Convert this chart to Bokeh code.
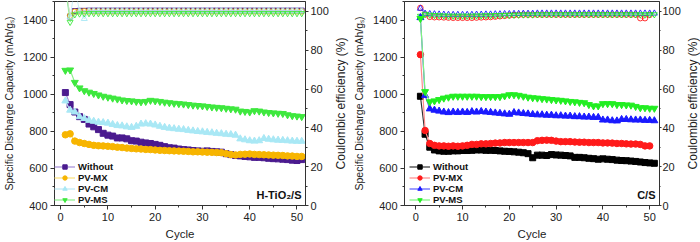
from bokeh.plotting import figure
from bokeh.models import Range1d, LinearAxis, SingleIntervalTicker, Legend, LegendItem, Label, Title
from bokeh.layouts import row
from bokeh.embed import file_html
from bokeh.resources import INLINE

FONT = "Liberation Sans"

cycles = list(range(1, 52))

# ---- H-TiO2/S : discharge capacity (mAh/g_s) ----
ti_without = [1010, 945, 905, 880, 865, 840, 825, 810, 790, 780,
              775, 765, 765, 760, 750, 748, 742, 738, 735, 730,
              725, 718, 712, 710, 705, 702, 700, 697, 695, 693,
              695, 692, 690, 688, 680, 675, 670, 668, 665, 663,
              660, 660, 658, 655, 653, 652, 650, 648, 645, 643, 648]
ti_mx = [782, 787, 748, 740, 735, 730, 725, 723, 722, 720,
         718, 715, 713, 710, 708, 706, 705, 703, 702, 700,
         698, 697, 696, 695, 694, 693, 692, 690, 690, 689,
         688, 687, 686, 685, 680, 675, 673, 676, 677, 678,
         676, 675, 674, 673, 672, 671, 670, 668, 667, 665, 665]
ti_cm = [965, 915, 905, 880, 870, 860, 855, 850, 848, 845,
         838, 832, 830, 825, 822, 828, 840, 842, 840, 835,
         828, 822, 818, 815, 812, 810, 806, 803, 800, 798,
         795, 793, 790, 788, 785, 783, 780, 760, 755, 750,
         748, 750, 762, 758, 755, 753, 752, 750, 748, 747, 747]
ti_ms = [1130, 1132, 1065, 1035, 1020, 1012, 1005, 997, 990, 985,
         980, 975, 970, 967, 965, 962, 960, 962, 968, 965,
         962, 958, 955, 952, 950, 948, 945, 942, 940, 938,
         935, 932, 930, 928, 925, 922, 920, 910, 908, 905,
         912, 910, 905, 902, 900, 898, 897, 890, 885, 883, 880]

# ---- H-TiO2/S : coulombic efficiency (%) ----
ti_without_ce = [112, 97.4, 100.2, 100.3, 100.3, 100.4, 100.4, 100.4, 100.4, 100.4,
                 100.4, 100.4, 100.4, 100.4, 100.4, 100.4, 100.4, 100.4, 100.4, 100.4,
                 100.4, 100.4, 100.4, 100.4, 100.4, 100.4, 100.4, 100.4, 100.4, 100.4,
                 100.4, 100.4, 100.4, 100.4, 100.4, 100.4, 100.4, 100.4, 100.4, 100.4,
                 100.4, 100.4, 100.4, 100.4, 100.4, 100.4, 100.4, 100.4, 100.4, 100.4, 100.4]
ti_mx_ce = [112, 97.8, 99.8, 100.0, 100.0, 100.0, 100.0, 100.0, 100.0, 100.0,
            100.0, 100.0, 100.0, 100.0, 100.0, 100.0, 100.0, 100.0, 100.0, 100.0,
            100.0, 100.0, 100.0, 100.0, 100.0, 100.0, 100.0, 100.0, 100.0, 100.0,
            100.0, 100.0, 100.0, 100.0, 100.0, 100.0, 100.0, 100.0, 100.0, 100.0,
            100.0, 100.0, 100.0, 100.0, 100.0, 100.0, 100.0, 100.0, 100.0, 100.0, 100.0]
ti_cm_ce = [112, 97.2, 112, 100.1, 96.2, 100.1, 100.2, 100.2, 100.2, 100.2,
            100.2, 100.2, 100.2, 100.2, 100.2, 100.2, 100.2, 100.2, 100.2, 100.2,
            100.2, 100.2, 100.2, 100.2, 100.2, 100.2, 100.2, 100.2, 100.2, 100.2,
            100.2, 100.2, 100.2, 100.2, 100.2, 100.2, 100.2, 100.2, 100.2, 100.2,
            100.2, 100.2, 100.2, 100.2, 100.2, 100.2, 100.2, 100.2, 100.2, 100.2, 100.2]
ti_ms_ce = [112, 94.5, 98.4, 98.8, 98.9, 99.0, 99.0, 99.0, 99.0, 99.0,
            99.0, 99.0, 99.0, 99.0, 99.0, 99.0, 99.0, 99.0, 99.0, 99.0,
            99.0, 99.0, 99.0, 99.0, 99.0, 99.0, 99.0, 99.0, 99.0, 99.0,
            99.0, 99.0, 99.0, 99.0, 99.0, 99.0, 99.0, 99.0, 99.0, 99.0,
            99.0, 99.0, 99.0, 99.0, 99.0, 99.0, 99.0, 99.0, 99.0, 99.0, 99.0]

# ---- C/S : discharge capacity (mAh/g_s) ----
cs_without = [990, 785, 715, 700, 695, 693, 693, 695, 695, 697,
              697, 698, 700, 700, 698, 698, 697, 695, 693, 692,
              690, 688, 685, 680, 658, 672, 672, 670, 675, 673,
              672, 670, 668, 660, 660, 658, 655, 653, 650, 652,
              650, 648, 645, 643, 642, 640, 638, 635, 632, 630, 628]
cs_mx = [1215, 805, 735, 725, 722, 722, 720, 722, 720, 722,
         725, 730, 730, 733, 733, 735, 737, 738, 740, 740,
         740, 740, 740, 740, 740, 750, 752, 753, 752, 748,
         745, 745, 745, 743, 742, 742, 740, 740, 740, 738,
         738, 737, 735, 735, 733, 732, 732, 730, 722, 722]
cs_cm = [1415, 995, 922, 915, 910, 905, 902, 905, 903, 905,
         903, 907, 905, 908, 905, 903, 900, 898, 895, 893,
         902, 900, 897, 895, 892, 890, 890, 888, 888, 885,
         885, 883, 883, 880, 880, 878, 878, 876, 876, 862,
         862, 858, 857, 865, 865, 863, 862, 862, 860, 860, 858]
cs_ms = [1410, 1015, 960, 965, 972, 980, 985, 990, 990, 990,
         990, 990, 990, 988, 988, 988, 988, 988, 992, 998,
         998, 995, 990, 985, 982, 980, 977, 975, 972, 970,
         968, 965, 962, 960, 957, 955, 945, 938, 938, 950,
         950, 950, 945, 945, 943, 942, 935, 928, 928, 925, 925]

# ---- C/S : coulombic efficiency (%) ----
cs_mx_ce = [101.8, 98.4, 97.2, 97.0, 97.0, 96.9, 96.8, 96.7, 96.7, 96.7,
            96.7, 96.7, 96.8, 96.9, 97.0, 97.1, 97.3, 97.5, 97.7, 97.9,
            98.1, 98.2, 98.3, 98.3, 98.3, 98.3, 98.3, 98.3, 98.3, 98.3,
            98.3, 98.3, 98.3, 98.3, 98.3, 98.3, 98.3, 98.3, 98.3, 98.3,
            98.3, 98.3, 98.3, 98.3, 98.3, 98.3, 98.3, 96.5, 96.5, 98.2]
cs_cm_ce = [101.5, 98.9, 98.7, 98.6, 98.5, 98.4, 98.3, 98.3, 98.3, 98.3,
            98.3, 98.3, 98.4, 98.4, 98.5, 98.5, 98.6, 98.6, 98.7, 98.7,
            98.8, 98.8, 98.9, 98.9, 98.9, 99.0, 99.0, 99.0, 99.0, 99.0,
            99.0, 99.0, 99.0, 99.0, 99.0, 99.0, 99.0, 99.0, 99.0, 99.0,
            99.0, 99.0, 99.0, 99.0, 99.0, 99.0, 99.0, 99.0, 99.0, 99.0, 99.0]
cs_ms_ce = [97.6, 98.6, 98.2, 98.0, 97.9, 97.8, 97.7, 97.7, 97.7, 97.7,
            97.7, 97.7, 97.8, 97.8, 97.9, 97.9, 98.0, 98.0, 98.1, 98.1,
            98.2, 98.2, 98.3, 98.3, 98.3, 98.4, 98.4, 98.4, 98.4, 98.4,
            98.4, 98.4, 98.4, 98.4, 98.4, 98.4, 98.4, 98.4, 98.4, 98.4,
            98.4, 98.4, 98.4, 98.4, 98.4, 98.4, 98.4, 98.4, 98.4, 98.4, 98.4]

series_names = ["Without", "PV-MX", "PV-CM", "PV-MS"]
markers = ["square", "circle", "triangle", "inverted_triangle"]
marker_sizes = [6, 6.5, 7, 7]

CAP_RANGE = (400, 1502)
CE_RANGE = (0, 105.1)


def style_axis(ax, label_size):
    ax.axis_line_color = "#333333"
    ax.major_tick_line_color = "#333333"
    ax.minor_tick_line_color = "#333333"
    ax.major_tick_in = 0
    ax.major_tick_out = 4
    ax.minor_tick_in = 0
    ax.minor_tick_out = 2
    ax.major_label_standoff = 3
    ax.major_label_text_font = FONT
    ax.major_label_text_font_size = "11px"
    ax.major_label_text_color = "#222222"
    ax.axis_label_text_font = FONT
    ax.axis_label_text_font_size = label_size
    ax.axis_label_text_font_style = "normal"
    ax.axis_label_text_color = "#222222"
    ax.axis_label_standoff = 5


def make_panel(width, x_start, x_end, caps, ces, marker_colors, line_colors, tag,
               border_left, border_right, legend_x, ce_tick_out, ce_standoff):
    p = figure(width=width, height=242,
               x_range=Range1d(x_start, x_end), y_range=Range1d(*CAP_RANGE),
               output_backend="svg", toolbar_location=None,
               min_border_left=border_left, min_border_right=border_right,
               min_border_top=1, min_border_bottom=37)
    p.extra_y_ranges = {"ce": Range1d(*CE_RANGE)}
    p.xgrid.visible = False
    p.ygrid.visible = False
    p.outline_line_color = "#333333"
    p.background_fill_color = "white"
    p.border_fill_color = "white"

    p.xaxis.ticker = SingleIntervalTicker(interval=10, num_minor_ticks=2)
    p.yaxis.ticker = SingleIntervalTicker(interval=200, num_minor_ticks=2)
    p.xaxis.axis_label = "Cycle"
    p.yaxis.axis_label = "Specific Discharge Capacity (mAh/g\u209b)"
    style_axis(p.xaxis[0], "11.5px")
    style_axis(p.yaxis[0], "10.5px")
    p.xaxis[0].axis_label_standoff = 4

    ce_axis = LinearAxis(y_range_name="ce",
                         ticker=SingleIntervalTicker(interval=20, num_minor_ticks=2))
    style_axis(ce_axis, "12px")
    ce_axis.major_tick_out = ce_tick_out
    ce_axis.minor_tick_out = max(ce_tick_out - 1, 1)
    ce_axis.major_label_standoff = ce_standoff
    p.add_layout(ce_axis, "right")

    # coulombic efficiency: hollow markers on the right axis
    for name, ce in ces.items():
        i = series_names.index(name)
        xs = cycles[:len(ce)]
        p.line(xs, ce, y_range_name="ce", line_color=line_colors[i], line_width=0.8)
        p.scatter(xs, ce, y_range_name="ce", marker=markers[i], size=marker_sizes[i] - 1,
                  fill_color=None, line_color=marker_colors[i], line_width=0.9)

    # discharge capacity: filled markers on the left axis
    items = []
    for i, (name, cap) in enumerate(zip(series_names, caps)):
        xs = cycles[:len(cap)]
        ln = p.line(xs, cap, line_color=line_colors[i], line_width=1.2)
        sc = p.scatter(xs, cap, marker=markers[i], size=marker_sizes[i],
                       fill_color=marker_colors[i], line_color=marker_colors[i])
        items.append(LegendItem(label=name, renderers=[ln, sc]))

    legend = Legend(items=items, location=(legend_x, 0),
                    label_text_font=FONT, label_text_font_size="9.5px",
                    label_text_font_style="bold", label_text_color="#111111",
                    glyph_width=21, glyph_height=11, label_height=11,
                    label_standoff=3, spacing=0, padding=1, margin=0,
                    border_line_color=None, background_fill_alpha=0)
    p.add_layout(legend)

    p.add_layout(Label(x=x_end, y=CAP_RANGE[0], x_offset=-4, y_offset=5,
                       text=tag, text_font=FONT, text_font_size="11px",
                       text_font_style="bold", text_color="#111111",
                       text_align="right", text_baseline="bottom"))
    return p


def ce_title_strip(width):
    """Narrow strip carrying the right-hand axis title, read bottom to top."""
    s = figure(width=width, height=242, output_backend="svg", toolbar_location=None,
               x_axis_location=None, y_axis_location=None,
               min_border_left=0, min_border_right=0,
               min_border_top=1, min_border_bottom=37)
    s.outline_line_color = None
    s.xgrid.visible = False
    s.ygrid.visible = False
    s.background_fill_color = "white"
    s.border_fill_color = "white"
    s.add_layout(Title(text="Coulombic efficiency (%)", align="center",
                       text_font=FONT, text_font_size="12px",
                       text_font_style="normal", text_color="#222222",
                       standoff=0, offset=0), "left")
    return s


left = make_panel(331, -1.3, 51.8,
                  [ti_without, ti_mx, ti_cm, ti_ms],
                  {"Without": ti_without_ce, "PV-MX": ti_mx_ce,
                   "PV-CM": ti_cm_ce, "PV-MS": ti_ms_ce},
                  ["#4b1b8f", "#f7b500", "#a9e8f5", "#3ee83e"],
                  ["#a48cd8", "#fbe27a", "#bde9f5", "#8cf08c"],
                  "H-TiO\u2082/S", 53, 25, 0, 3, 2)

right = make_panel(333, -2.4, 52.1,
                   [cs_without, cs_mx, cs_cm, cs_ms],
                   {"PV-MX": cs_mx_ce, "PV-CM": cs_cm_ce, "PV-MS": cs_ms_ce},
                   ["#000000", "#ff1a1a", "#1a1aff", "#22ee22"],
                   ["#333333", "#ff8a8a", "#5a5aff", "#7ef57e"],
                   "C/S", 54, 22, 5, 2, 1)

layout = row(left, ce_title_strip(19), right, ce_title_strip(17))
open("out.html", "w").write(file_html(layout, INLINE))
